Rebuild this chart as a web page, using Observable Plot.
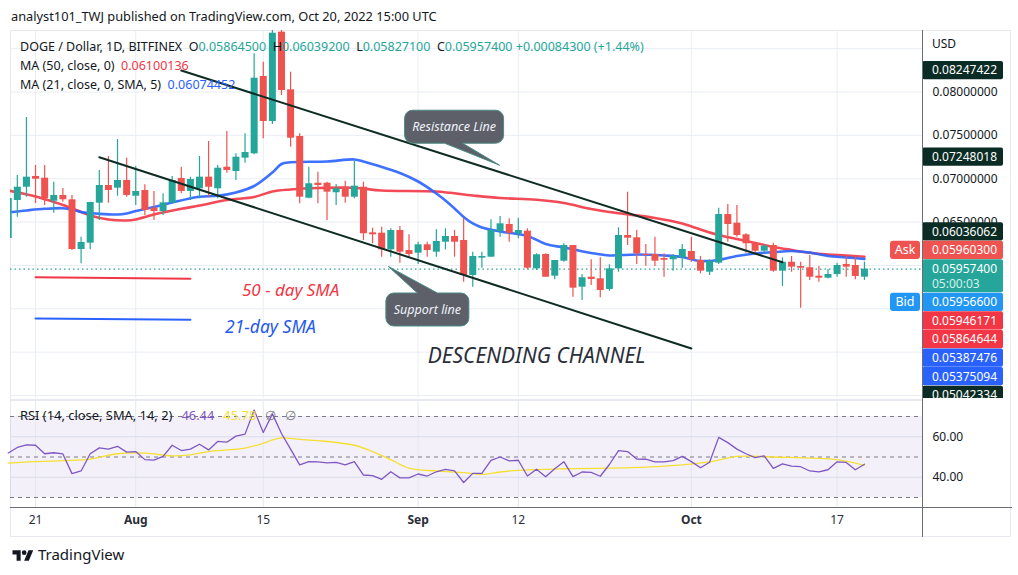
<!DOCTYPE html>
<html><head><meta charset="utf-8">
<script src="https://cdn.jsdelivr.net/npm/d3@7"></script>
<script src="https://cdn.jsdelivr.net/npm/@observablehq/plot@0.6"></script>
<style>
html,body{margin:0;padding:0;background:#fff;}
body{width:1018px;height:575px;overflow:hidden;font-family:"Noto Sans","Open Sans",sans-serif;color:#131722;}
#wrap{position:relative;width:1018px;height:575px;}
.abs{position:absolute;white-space:nowrap;line-height:16px;}
.tl{color:#26a69a;}
.sp{margin-left:9px;}
</style></head><body><div id="wrap"></div>
<script>
// ---------------- DATA ----------------
const dates = ["07-18","07-19","07-20","07-21","07-22","07-23","07-24","07-25","07-26","07-27","07-28","07-29","07-30","07-31",
"08-01","08-02","08-03","08-04","08-05","08-06","08-07","08-08","08-09","08-10","08-11","08-12","08-13","08-14","08-15","08-16","08-17","08-18","08-19","08-20","08-21","08-22","08-23","08-24","08-25","08-26","08-27","08-28","08-29","08-30","08-31",
"09-01","09-02","09-03","09-04","09-05","09-06","09-07","09-08","09-09","09-10","09-11","09-12","09-13","09-14","09-15","09-16","09-17","09-18","09-19","09-20","09-21","09-22","09-23","09-24","09-25","09-26","09-27","09-28","09-29","09-30",
"10-01","10-02","10-03","10-04","10-05","10-06","10-07","10-08","10-09","10-10","10-11","10-12","10-13","10-14","10-15","10-16","10-17","10-18","10-19","10-20"];
const open = [.06311,.06749,.06902,.07026,.07006,.06741,.06807,.06757,.06184,.06257,.06718,.06922,.06891,.06980,
.06798,.06864,.06660,.06622,.06718,.07003,.06853,.06884,.07018,.06884,.07133,.07083,.07237,.07287,.08179,.07660,.08690,.08025,.07487,.06775,.06948,.06948,.06838,.06902,.06787,.06902,.06376,.06372,.06180,.06403,.06172,
.06141,.06238,.06153,.06268,.06334,.06288,.05884,.06084,.06095,.06391,.06472,.06365,.06395,.05961,.06126,.05876,.06049,.06230,.05749,.05864,.05846,.05723,.05961,.06345,.06319,.06126,.06126,.06080,.06065,.06088,
.06161,.06057,.05922,.06026,.06587,.06487,.06353,.06250,.06164,.06230,.05934,.06037,.05988,.05973,.05876,.05853,.05896,.06011,.05999,.058645];
const high = [.06800,.07037,.07706,.07153,.07153,.06960,.06887,.06807,.06326,.06729,.07095,.07256,.07452,.07237,
.07141,.06930,.06853,.06826,.07026,.07133,.07018,.07256,.07429,.07153,.07545,.07287,.07518,.08441,.08344,.08709,.08709,.08228,.07518,.07133,.07075,.06960,.06933,.06971,.07199,.06960,.06430,.06441,.06423,.06449,.06353,
.06268,.06268,.06411,.06423,.06403,.06545,.06153,.06153,.06526,.06564,.06538,.06545,.06423,.06134,.06134,.06057,.06250,.06230,.05896,.06065,.06088,.06007,.06434,.06845,.06403,.06242,.06326,.06134,.06126,.06242,
.06326,.06103,.06065,.06660,.06703,.06691,.06365,.06268,.06242,.06257,.06088,.06103,.06037,.06115,.05988,.05953,.06026,.06103,.06095,.060392];
const low = [.06280,.06556,.06787,.06714,.06691,.06602,.06729,.06172,.06019,.06180,.06518,.06718,.06798,.06787,
.06691,.06576,.06518,.06576,.06711,.06826,.06749,.06768,.06787,.06768,.07064,.06980,.07179,.07276,.07460,.07625,.07960,.07364,.06711,.06768,.06711,.06518,.06691,.06718,.06768,.06288,.06250,.06095,.06095,.06026,.06095,
.06011,.06095,.06095,.06180,.06095,.05807,.05749,.05968,.06095,.06326,.06268,.06307,.05950,.05942,.05864,.05835,.06037,.05634,.05596,.05769,.05627,.05703,.05922,.06230,.06011,.05991,.05988,.05864,.05934,.05968,
.06037,.05904,.05884,.06011,.06268,.06326,.06141,.06134,.06134,.05922,.05757,.05922,.05507,.05826,.05807,.05846,.05864,.05864,.05835,.058271];
const close = [.06772,.06902,.07018,.06994,.06768,.06807,.06757,.06184,.06265,.06726,.06922,.06864,.06980,.06807,
.06853,.06634,.06622,.06722,.06980,.06853,.06991,.07018,.06902,.07121,.07095,.07248,.07302,.08159,.07660,.08678,.08017,.07467,.06787,.06942,.06922,.06845,.06884,.06787,.06914,.06365,.06353,.06180,.06403,.06153,.06126,
.06238,.06172,.06276,.06334,.06268,.05884,.06103,.06103,.06403,.06480,.06372,.06403,.05968,.06123,.05864,.06057,.06230,.05738,.05858,.05838,.05711,.05961,.06345,.06314,.06134,.06115,.06049,.06060,.06103,.06184,
.06065,.05934,.06046,.06587,.06472,.06345,.06250,.06164,.06222,.05934,.06037,.05980,.05968,.05864,.05853,.05896,.05999,.05980,.05873,.059574];
const rsi = [52.0,54.7,56.0,55.8,51.6,52.1,51.5,41.8,43.1,51.6,54.5,53.9,55.3,52.4,
52.7,48.7,48.5,50.3,55.8,53.2,53.9,56.3,53.5,57.7,57.3,60.3,61.3,73.2,62.1,71.3,61.6,53.9,46.1,47.7,47.6,47.1,47.3,46.1,47.7,41.1,40.8,39.0,42.7,39.7,39.7,
41.6,40.6,42.7,43.9,43.1,37.4,41.9,41.9,48.3,50.0,48.1,48.4,40.6,44.0,40.2,44.2,47.7,40.3,42.6,42.4,40.5,46.3,53.1,52.7,49.0,48.9,47.6,47.6,48.2,50.3,
47.7,44.7,47.4,59.7,57.1,53.9,51.6,49.7,50.6,44.4,46.6,45.5,45.2,43.1,42.7,43.7,47.6,47.3,43.7,46.44];

const ma50Dates = ["07-18","07-21","07-22","07-24","07-26","07-27","07-29","07-31","08-01","08-03","08-06","08-08","08-11","08-14","08-16","08-18","08-21","08-25","08-28","09-03","09-07","09-10","09-14","09-17","09-20","09-23","09-27","09-30","10-02","10-04","10-06","10-08","10-10","10-12","10-14","10-16","10-18","10-20"];
const ma50 = [.06864,.06795,.06764,.06697,.06616,.06576,.06530,.06518,.06530,.06587,.06653,.06691,.06755,.06789,.06853,.06876,.06893,.06895,.06864,.06853,.06807,.06778,.06757,.06720,.06651,.06602,.06547,.06484,.06415,.06351,.06305,.06259,.06213,.06178,.06146,.06126,.06115,.06100136];
const ma21Dates = ["07-18","07-20","07-22","07-24","07-25","07-26","07-28","07-30","07-31","08-01","08-03","08-05","08-08","08-10","08-12","08-14","08-16","08-17","08-18","08-22","08-25","08-26","08-28","08-30","09-01","09-03","09-04","09-05","09-06","09-07","09-08","09-10","09-13","09-15","09-17","09-20","09-22","09-25","09-28","09-30","10-02","10-04","10-06","10-08","10-10","10-12","10-14","10-16","10-18","10-20"];
const ma21 = [.06611,.06634,.06653,.06660,.06645,.06616,.06595,.06587,.06599,.06628,.06674,.06726,.06792,.06803,.06841,.06916,.07072,.07170,.07190,.07199,.07222,.07199,.07135,.07066,.06968,.06830,.06749,.06657,.06559,.06484,.06438,.06391,.06340,.06247,.06207,.06144,.06115,.06126,.06115,.06097,.06051,.06063,.06109,.06138,.06153,.06167,.06149,.06109,.06092,.06074452];
const rsiSmaDates = ["07-18","07-21","07-24","07-27","07-30","08-02","08-05","08-07","08-09","08-13","08-15","08-16","08-17","08-19","08-21","08-25","08-27","08-29","08-31","09-03","09-06","09-08","09-10","09-12","09-17","09-26","10-03","10-06","10-10","10-17","10-20"];
const rsiSma = [47.0,47.7,48.2,49.0,51.6,51.9,50.6,51.1,52.7,54.4,56.8,58.4,59.4,58.7,58.1,55.8,52.7,48.7,44.5,43.1,42.3,41.4,42.6,43.4,44.2,45.0,47.6,50.3,50.0,48.7,45.78];

const priceGrid = [0.085,0.08,0.075,0.07,0.065,0.06,0.055,0.05,0.045];
const priceTickLabels = [0.08,0.075,0.07,0.065];
const timeTickDates = ["07-21","08-01","08-15","09-01","09-12","10-01","10-17"];
const timeTickLabels = ["21","Aug","15","Sep","12","Oct","17"];
const rsiTicks = [60,40];
const resistanceDates = ["08-06","10-11"], resistance = [0.08247422,0.06036062];
const supportDates = ["07-28","10-01"], support = [0.07248018,0.05042334];
const legendLineDates = ["07-21","08-07"];
const sma50Legend = [0.05864644,0.05847], sma21Legend = [0.05387476,0.05375094];
const noteDates = ["08-18T00","08-15T19","09-14T00"];
const notePrices = [0.05715,0.05285,0.04950];
const noteTexts = ["50 - day SMA","21-day SMA","DESCENDING CHANNEL"];
const calloutTexts = ["Resistance Line","Support line"];
const calloutDates = ["09-10T00","08-28T19"], calloutPrices = [0.0715,0.05982];
const axisValues = [0.08247422,0.07248018,0.06036062,0.059603,0.059574,0.059566,0.05946171,0.05864644,0.05387476,0.05375094,0.05042334];
const axisKinds = ["line","line","line","ask","last","bid","red","red","blue","blue","line"];

// ---------------- SETUP ----------------
const P = s => new Date(s.includes("T") ? `2022-${s}:00:00Z` : `2022-${s}T00:00:00Z`);
const GREEN="#26a69a", RED="#ef5350", MARED="#f23645", MABLUE="#2962ff", LINE="#0f2c24";
const candles = dates.map((d,i)=>({date:P(d),open:open[i],high:high[i],low:low[i],close:close[i],rsi:rsi[i]}));
const X0 = new Date(Date.UTC(2022,6,18,6)), X1 = new Date(Date.UTC(2022,9,26,9));
const FONT = '"Noto Sans","Open Sans",sans-serif';
const wrap = document.getElementById("wrap");
const fmt = v => v.toFixed(8);
function add(html, css){const e=document.createElement("div");e.className="abs";e.style.cssText=css;e.innerHTML=html;wrap.appendChild(e);return e;}

add("", "left:10px;top:30px;width:999px;height:505px;border:1.5px solid #e6e9ef;");

const mainPlot = Plot.plot({
  width: 1002, height: 368, marginTop:0, marginRight:90, marginBottom:0, marginLeft:0,
  style:{background:"transparent", overflow:"hidden", fontFamily:FONT},
  x:{type:"utc", domain:[X0,X1], axis:null},
  y:{domain:[0.044656,0.087092], axis:null},
  marks:[
    Plot.ruleY(priceGrid,{stroke:"#e9edf3"}),
    Plot.ruleX(timeTickDates.map(P),{stroke:"#e9edf3"}),
    Plot.ruleY([close[close.length-1]],{stroke:GREEN, strokeDasharray:"1.5,3", strokeWidth:1.4}),
    Plot.line(ma50Dates.map((d,i)=>({d:P(d),v:ma50[i]})),{x:"d",y:"v",stroke:MARED,strokeWidth:2.6,curve:"catmull-rom",strokeOpacity:0.9}),
    Plot.line(ma21Dates.map((d,i)=>({d:P(d),v:ma21[i]})),{x:"d",y:"v",stroke:MABLUE,strokeWidth:2.6,curve:"catmull-rom",strokeOpacity:0.9}),
    Plot.ruleX(candles,{x:"date",y1:"low",y2:"high",stroke:d=>d.close>=d.open?GREEN:RED,strokeWidth:1.2,clip:true}),
    Plot.ruleX(candles,{x:"date",y1:"open",y2:"close",stroke:d=>d.close>=d.open?GREEN:RED,strokeWidth:7,clip:true}),
    Plot.line(legendLineDates.map((d,i)=>({d:P(d),v:sma50Legend[i]})),{x:"d",y:"v",stroke:MARED,strokeWidth:2}),
    Plot.line(legendLineDates.map((d,i)=>({d:P(d),v:sma21Legend[i]})),{x:"d",y:"v",stroke:MABLUE,strokeWidth:2}),
    Plot.line(resistanceDates.map((d,i)=>({d:P(d),v:resistance[i]})),{x:"d",y:"v",stroke:LINE,strokeWidth:2}),
    Plot.line(supportDates.map((d,i)=>({d:P(d),v:support[i]})),{x:"d",y:"v",stroke:LINE,strokeWidth:2}),
    Plot.text([0],{x:P(noteDates[0]),y:notePrices[0],text:()=>noteTexts[0],fill:MARED,fontSize:17,fontStyle:"italic"}),
    Plot.text([0],{x:P(noteDates[1]),y:notePrices[1],text:()=>noteTexts[1],fill:"#2458f0",fontSize:17.5,fontStyle:"italic"}),
    Plot.text([0],{x:P(noteDates[2]),y:notePrices[2],text:()=>noteTexts[2],fill:"#2a2e39",fontSize:21,fontStyle:"italic"}),
    Plot.text(priceTickLabels,{y:d=>d,text:d=>fmt(d),frameAnchor:"right",dx:10,textAnchor:"start",fontSize:12,fill:"#131722"})
  ]
});
mainPlot.style.position="absolute";mainPlot.style.left="10px";mainPlot.style.top="30px";
wrap.appendChild(mainPlot);

const xs = mainPlot.scale("x"), ys = mainPlot.scale("y");
const svg = d3.select(mainPlot);
function calloutPath(x0,y0,x1,y1,r,t){
  let p=`M${x0+r},${y0}`;
  if(t.side==="top") p+=`H${t.a}L${t.tx},${t.ty}L${t.b},${y0}`;
  p+=`H${x1-r}A${r},${r} 0 0 1 ${x1},${y0+r}V${y1-r}A${r},${r} 0 0 1 ${x1-r},${y1}`;
  if(t.side==="bottom") p+=`H${t.b}L${t.tx},${t.ty}L${t.a},${y1}`;
  p+=`H${x0+r}A${r},${r} 0 0 1 ${x0},${y1-r}V${y0+r}A${r},${r} 0 0 1 ${x0+r},${y0}Z`;
  return p;
}
const boxes = [
  {box:[-95,-55,4,-22], tail:{side:"bottom",a:-55,b:-37}},
  {box:[-2.5,26.5,80.5,59.5], tail:{side:"top",a:29,b:49}}
];
calloutTexts.forEach((t,i)=>{
  const tx=xs.apply(P(calloutDates[i])), ty=ys.apply(calloutPrices[i]);
  const [a,b,c,d]=boxes[i].box;
  const tl={side:boxes[i].tail.side,a:tx+boxes[i].tail.a,b:tx+boxes[i].tail.b,tx,ty};
  svg.append("path").attr("d",calloutPath(tx+a,ty+b,tx+c,ty+d,8,tl)).attr("fill","#5d6069").attr("stroke","#4b8c86").attr("stroke-width",1);
  svg.append("text").attr("x",tx+(a+c)/2).attr("y",ty+(b+d)/2).attr("dy","0.35em").attr("text-anchor","middle")
    .attr("fill","#f0f3fa").attr("font-size",12.5).attr("font-style","italic").attr("font-family",FONT).text(t);
});

const H=18.3, GAP=0.3, LX=912, LW=81;
const colors={line:"#0b2c24",ask:RED,last:GREEN,bid:"#2196f3",red:MARED,blue:MABLUE};
const items=axisValues.map((v,i)=>({v,k:axisKinds[i]}));
const cur=items.find(d=>d.k==="last");
cur.top=ys.apply(cur.v)-9.3; cur.h=33;
let lim=cur.top-GAP;
items.filter(d=>d.v>cur.v).sort((a,b)=>a.v-b.v).forEach(d=>{let bot=ys.apply(d.v)+H/2; if(bot>lim) bot=lim; d.top=bot-H; d.h=H; lim=d.top-GAP;});
lim=cur.top+cur.h+GAP;
items.filter(d=>d.v<cur.v).sort((a,b)=>b.v-a.v).forEach(d=>{let top=ys.apply(d.v)-H/2; if(top<lim) top=lim; d.top=top; d.h=H; lim=top+H+GAP;});
const g=svg.append("g").attr("font-family",FONT).attr("font-size",12).attr("text-anchor","start");
items.forEach(d=>{
  g.append("rect").attr("x",LX).attr("y",d.top).attr("width",LW).attr("height",d.h).attr("rx",2).attr("fill",colors[d.k]);
  g.append("text").attr("x",LX+10).attr("y",d.top+9.3).attr("dy","0.35em").attr("fill","#fff").text(fmt(d.v));
  if(d.k==="last") g.append("text").attr("x",LX+10).attr("y",d.top+24).attr("dy","0.35em").attr("fill","#d4f0ec").text("05:00:03");
  if(d.k==="ask"||d.k==="bid"){
    g.append("rect").attr("x",LX-32).attr("y",d.top).attr("width",30).attr("height",d.h).attr("rx",3).attr("fill",colors[d.k]);
    g.append("text").attr("x",LX-17).attr("y",d.top+9.3).attr("dy","0.35em").attr("text-anchor","middle").attr("fill","#fff").attr("font-size",12.5).text(d.k==="ask"?"Ask":"Bid");
  }
});

const monthIdx = timeTickLabels.map((t,i)=>isNaN(+t)?i:-1).filter(i=>i>=0);
const dayIdx = timeTickLabels.map((t,i)=>isNaN(+t)?-1:i).filter(i=>i>=0);
const rsiPlot = Plot.plot({
  width:1002, height:136, marginTop:0, marginRight:90, marginBottom:30, marginLeft:0,
  style:{background:"transparent", overflow:"visible", fontFamily:FONT},
  x:{type:"utc", domain:[X0,X1], axis:null},
  y:{domain:[25.06,77.41], axis:null},
  marks:[
    Plot.rect([{a:30,b:70}],{x1:()=>X0,x2:()=>X1,y1:"a",y2:"b",fill:"#7e57c2",fillOpacity:0.09}),
    Plot.ruleX(timeTickDates.map(P),{stroke:"#e3e7ef"}),
    Plot.ruleY(rsiTicks,{stroke:"#d9dcea"}),
    Plot.ruleY([70,50,30],{stroke:"#787b86",strokeDasharray:"4,4",strokeWidth:1}),
    Plot.line(rsiSmaDates.map((d,i)=>({d:P(d),v:rsiSma[i]})),{x:"d",y:"v",stroke:"#f5e032",strokeWidth:1.3,curve:"catmull-rom"}),
    Plot.line(candles,{x:"date",y:"rsi",stroke:"#7e57c2",strokeWidth:1.3}),
    Plot.text(rsiTicks,{y:d=>d,text:d=>d.toFixed(2),frameAnchor:"right",dx:10,textAnchor:"start",fontSize:12,fill:"#131722"}),
    Plot.text(dayIdx,{x:i=>P(timeTickDates[i]),text:i=>timeTickLabels[i],frameAnchor:"bottom",dy:16,fontSize:12,fill:"#2a2e39"}),
    Plot.text(monthIdx,{x:i=>P(timeTickDates[i]),text:i=>timeTickLabels[i],frameAnchor:"bottom",dy:16,fontSize:12,fontWeight:"bold",fill:"#2a2e39"})
  ]
});
rsiPlot.style.position="absolute";rsiPlot.style.left="10px";rsiPlot.style.top="401px";
wrap.appendChild(rsiPlot);

add("", "left:10px;top:399px;width:912px;height:2px;background:#e6e9ef;");
add("", "left:922px;top:30px;width:1px;height:507px;background:#6a6d78;");
add("", "left:10px;top:507px;width:1002px;height:1px;background:#6a6d78;");

add("analyst101_TWJ published on TradingView.com, Oct 20, 2022 15:00 UTC","left:11px;top:8px;font-size:12.8px;color:#131722;");
add(`DOGE / Dollar, 1D, BITFINEX&nbsp; O<span class="tl">0.05864500</span>&nbsp; H<span class="tl">0.06039200</span>&nbsp; L<span class="tl">0.05827100</span>&nbsp; C<span class="tl">0.05957400</span> <span class="tl">+0.00084300 (+1.44%)</span>`,"left:20px;top:39px;font-size:12.5px;color:#131722;");
add(`MA (50, close, 0)&nbsp; <span style="color:${MARED}">0.06100136</span>`,"left:20px;top:58px;font-size:12.5px;color:#131722;");
add(`MA (21, close, 0, SMA, 5)&nbsp; <span style="color:${MABLUE}">0.06074452</span>`,"left:20px;top:77px;font-size:12.5px;color:#131722;");
add("USD","left:932px;top:36px;font-size:12px;color:#131722;");
add(`RSI (14, close, SMA, 14, 2)<span class="sp" style="color:#7e57c2">46.44</span><span class="sp" style="color:#f5e032">45.78</span><span class="sp" style="color:#787b86">∅</span><span class="sp" style="color:#787b86">∅</span>`,"left:20px;top:407px;font-size:12.9px;color:#131722;");
add(`<svg width="22" height="14" viewBox="0 0 36 24" style="vertical-align:-2px"><path d="M14 22H7V11H0V4h14v18zM28 22h-8l7.5-18h8L28 22z" fill="#131722"/><circle cx="20" cy="8" r="4" fill="#131722"/></svg> TradingView`,"left:12px;top:546px;font-size:15px;color:#131722;");
</script></body></html>
